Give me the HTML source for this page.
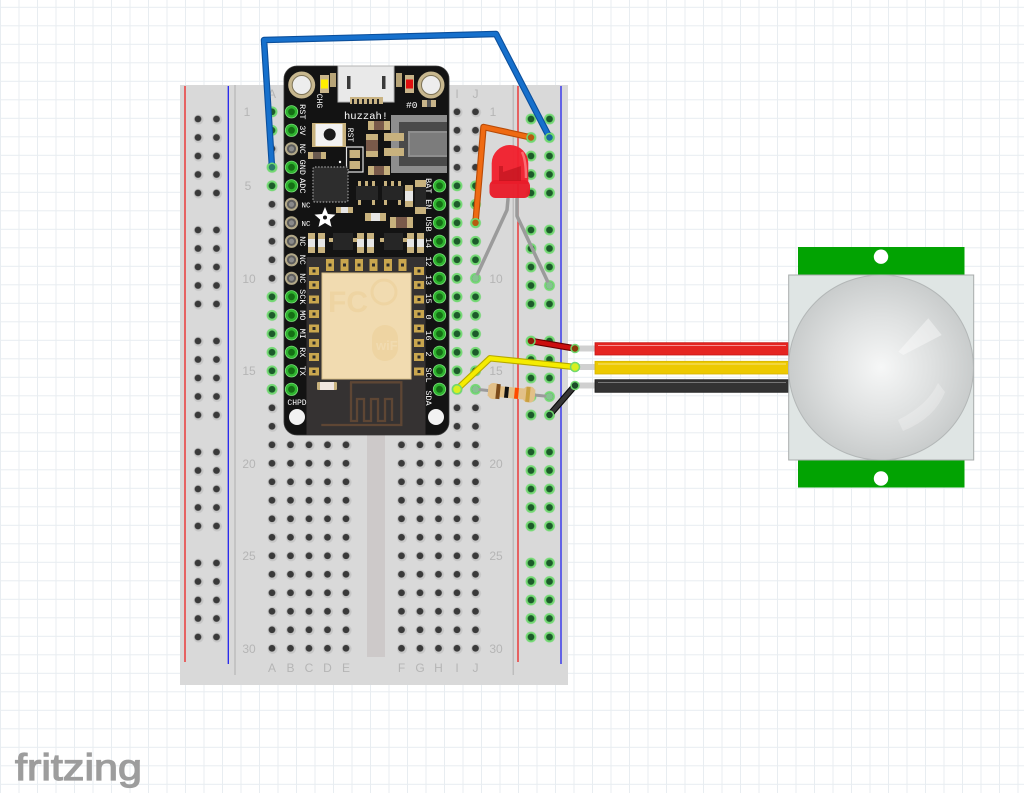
<!DOCTYPE html>
<html><head><meta charset="utf-8"><style>
html,body{margin:0;padding:0;background:#fff;width:1024px;height:793px;overflow:hidden}
svg{display:block}
.ml{font-family:"Liberation Mono",monospace;fill:#fff}
.bl{font-family:"Liberation Sans",sans-serif;fill:#b5b5b5;font-size:12px}
</style></head><body>
<svg width="1024" height="793" viewBox="0 0 1024 793" xmlns="http://www.w3.org/2000/svg">
<defs>
<pattern id="grid" patternUnits="userSpaceOnUse" x="0" y="6.8" width="18.5" height="18.5">
<path d="M0 0.5H18.5M0.5 0V18.5" stroke="#e8edf1" stroke-width="1" fill="none"/>
</pattern>
<pattern id="hg" patternUnits="userSpaceOnUse" x="262.75" y="102.55" width="18.5" height="18.5">
<circle cx="9.8" cy="9.8" r="5" fill="#c6c6c6"/><circle cx="9.25" cy="9.25" r="3.4" fill="#3a3a3a"/>
</pattern>
<pattern id="hgg" patternUnits="userSpaceOnUse" x="262.75" y="102.55" width="18.5" height="18.5">
<circle cx="9.25" cy="9.25" r="5.4" fill="#74d974"/><circle cx="9.25" cy="9.25" r="3.4" fill="#1c5a2a"/>
</pattern>
<pattern id="rg" patternUnits="userSpaceOnUse" x="262.75" y="109.75" width="18.5" height="18.5">
<circle cx="9.8" cy="9.8" r="5" fill="#c6c6c6"/><circle cx="9.25" cy="9.25" r="3.4" fill="#3a3a3a"/>
</pattern>
<pattern id="rgg" patternUnits="userSpaceOnUse" x="262.75" y="109.75" width="18.5" height="18.5">
<circle cx="9.25" cy="9.25" r="5.4" fill="#74d974"/><circle cx="9.25" cy="9.25" r="3.4" fill="#1c5a2a"/>
</pattern>
<radialGradient id="dome" cx="0.5" cy="0.5" r="0.5">
<stop offset="0" stop-color="#f6f7f7"/><stop offset="0.55" stop-color="#dfe1e1"/><stop offset="1" stop-color="#c9cccc"/>
</radialGradient>
<g id="gp"><circle r="6.6" fill="#7be07b"/><circle r="5.8" fill="#2fb52f"/><circle r="3.4" fill="#156f15"/></g>
<g id="np"><circle r="6.6" fill="#b3a988"/><circle r="4.6" fill="#5e5e5e"/><circle r="2.6" fill="#8a8a8a"/></g>
<g id="pad"><rect x="-4" y="-6" width="8" height="12" fill="#c9a64e"/><rect x="-1.5" y="-1.5" width="3" height="3" fill="#2a2a2a"/></g>
<g id="spad"><rect x="-5" y="-4" width="10" height="8" fill="#c9a64e"/><rect x="-1.5" y="-1.5" width="3" height="3" fill="#2a2a2a"/></g>
</defs>

<rect width="1024" height="793" fill="#fff"/>
<rect width="1024" height="793" fill="url(#grid)"/>

<!-- breadboard -->
<rect x="180" y="85" width="388" height="600" fill="#d9d9d9"/>
<line x1="185" y1="86" x2="185" y2="662" stroke="#ee2222" stroke-width="1.3"/>
<line x1="228.3" y1="86" x2="228.3" y2="664" stroke="#2222ee" stroke-width="1.3"/>
<line x1="518" y1="86" x2="518" y2="662" stroke="#ee2222" stroke-width="1.3"/>
<line x1="561" y1="86" x2="561" y2="664" stroke="#2222ee" stroke-width="1.3"/>
<line x1="235" y1="85" x2="235" y2="675" stroke="#bdbdbd" stroke-width="1.5"/>
<line x1="513.3" y1="85" x2="513.3" y2="675" stroke="#bdbdbd" stroke-width="1.5"/>
<rect x="367" y="95" width="18" height="562" fill="#cdc9c9"/>

<!-- holes -->
<rect x="262.75" y="102.55" width="92.5" height="555" fill="url(#hg)"/>
<rect x="392.25" y="102.55" width="92.5" height="555" fill="url(#hg)"/>
<rect x="262.75" y="102.55" width="18.5" height="37" fill="url(#hgg)"/>
<rect x="262.75" y="158.05" width="18.5" height="37" fill="url(#hgg)"/>
<rect x="262.75" y="287.55" width="18.5" height="111" fill="url(#hgg)"/>
<rect x="447.75" y="176.55" width="37" height="222" fill="url(#hgg)"/>
<!-- rails -->
<rect x="188.75" y="109.75" width="37" height="92.5" fill="url(#rg)"/>
<rect x="188.75" y="220.75" width="37" height="92.5" fill="url(#rg)"/>
<rect x="188.75" y="331.75" width="37" height="92.5" fill="url(#rg)"/>
<rect x="188.75" y="442.75" width="37" height="92.5" fill="url(#rg)"/>
<rect x="188.75" y="553.75" width="37" height="92.5" fill="url(#rg)"/>
<rect x="521.75" y="109.75" width="37" height="92.5" fill="url(#rgg)"/>
<rect x="521.75" y="220.75" width="37" height="92.5" fill="url(#rgg)"/>
<rect x="521.75" y="331.75" width="37" height="92.5" fill="url(#rgg)"/>
<rect x="521.75" y="442.75" width="37" height="92.5" fill="url(#rgg)"/>
<rect x="521.75" y="553.75" width="37" height="92.5" fill="url(#rgg)"/>

<!-- row labels -->
<g class="bl" text-anchor="middle">
<text x="247" y="116">1</text><text x="248" y="190">5</text><text x="249" y="283">10</text><text x="249" y="375">15</text><text x="249" y="468">20</text><text x="249" y="560">25</text><text x="249" y="653">30</text>
<text x="493" y="116">1</text><text x="496" y="283">10</text><text x="496" y="375">15</text><text x="496" y="468">20</text><text x="496" y="560">25</text><text x="496" y="653">30</text>
<text x="272" y="672">A</text><text x="290.5" y="672">B</text><text x="309" y="672">C</text><text x="327.5" y="672">D</text><text x="346" y="672">E</text>
<text x="401.5" y="672">F</text><text x="420" y="672">G</text><text x="438.5" y="672">H</text><text x="457" y="672">I</text><text x="475.5" y="672">J</text>
<text x="272" y="98">A</text><text x="457" y="98">I</text><text x="475.5" y="98">J</text>
</g>

<!-- FEATHER -->
<rect x="284" y="66" width="165" height="369" rx="13" fill="#131313" stroke="#3a3a3a" stroke-width="0.8"/>
<circle cx="301.7" cy="85" r="13.5" fill="#c7b78e"/>
<circle cx="301.7" cy="85" r="9.5" fill="#ededed" stroke="#7d7357" stroke-width="1"/>
<circle cx="431" cy="85" r="13.5" fill="#c7b78e"/>
<circle cx="431" cy="85" r="9.5" fill="#ededed" stroke="#7d7357" stroke-width="1"/>
<circle cx="297" cy="417" r="8" fill="#f2f2f2"/>
<circle cx="436" cy="417" r="8" fill="#f2f2f2"/>
<!-- LEDs on board -->
<rect x="320" y="75" width="9" height="18" fill="#c9b58a"/><rect x="321" y="79.5" width="7" height="9" fill="#ffee00"/>
<rect x="405" y="75" width="9" height="18" fill="#c9b58a"/><rect x="406" y="79.5" width="7" height="9" fill="#e01010"/>
<rect x="330" y="73" width="6" height="14" fill="#b7a477"/>
<rect x="396" y="73" width="6" height="14" fill="#b7a477"/>
<!-- USB -->
<rect x="338" y="66" width="56" height="36" fill="#e9e9e9" stroke="#b5b5b5" stroke-width="1"/>
<rect x="347" y="76" width="3.5" height="13" fill="#3a3a3a"/>
<rect x="382" y="76" width="3.5" height="13" fill="#3a3a3a"/>
<rect x="350" y="97" width="33" height="7" fill="#c9b383"/>
<rect x="352" y="99" width="2" height="5" fill="#222"/><rect x="357" y="99" width="2" height="5" fill="#222"/><rect x="362" y="99" width="2" height="5" fill="#222"/><rect x="367" y="99" width="2" height="5" fill="#222"/><rect x="372" y="99" width="2" height="5" fill="#222"/><rect x="377" y="99" width="2" height="5" fill="#222"/>
<text class="ml" font-size="8" transform="translate(320,101) rotate(90)" text-anchor="middle" dy="3">CHG</text>
<text class="ml" font-size="9.5" x="406" y="108">#0</text>
<rect x="422" y="100" width="14" height="7" fill="#c9b58a"/><rect x="427" y="100" width="4" height="7" fill="#555"/>
<text class="ml" font-size="10.5" x="344" y="119">huzzah!</text>
<!-- reset -->
<rect x="312" y="123" width="34" height="24" fill="#c8b27e"/>
<rect x="315.5" y="124" width="27" height="22" fill="#f2f2f2"/>
<circle cx="329.7" cy="134.5" r="6" fill="#1a1a1a"/>
<text class="ml" font-size="8" transform="translate(351,135) rotate(90)" text-anchor="middle" dy="3">RST</text>
<rect x="346.5" y="147" width="16.5" height="25" fill="none" stroke="#e5e5e5" stroke-width="1.2"/>
<rect x="349.5" y="150" width="10.5" height="8" fill="#c8b27e"/><rect x="349.5" y="161" width="10.5" height="8" fill="#c8b27e"/>
<circle cx="340" cy="162" r="1.2" fill="#fff"/>
<!-- small resistors -->
<rect x="368" y="121" width="22" height="9" fill="#c8b27e"/><rect x="374" y="121" width="10" height="9" fill="#7a5a4a"/>
<rect x="366" y="134" width="12" height="23" fill="#c8b27e"/><rect x="366" y="140" width="12" height="11" fill="#7a5a4a"/>
<rect x="368" y="166" width="22" height="9" fill="#c8b27e"/><rect x="374" y="166" width="10" height="9" fill="#7a5a4a"/>
<rect x="308" y="152" width="18" height="7" fill="#c8b27e"/><rect x="313" y="152" width="8" height="7" fill="#6a5a50"/>
<!-- JST -->
<rect x="391" y="115" width="56" height="58" fill="#8e8e8e"/>
<path d="M399 122H447V131H408V157H447V166H399Z" fill="#4a4a4a"/>
<rect x="410" y="133" width="37" height="22" fill="#7c7c7c"/>
<rect x="384" y="133" width="20" height="8" fill="#c8b27e"/><rect x="384" y="148" width="20" height="8" fill="#c8b27e"/>
<!-- chip -->
<rect x="313" y="167" width="35" height="35" rx="2" fill="#2d2d2d" stroke="#8a8a8a" stroke-width="1.4" stroke-dasharray="1.5 1.6"/>
<!-- SOT / parts -->
<rect x="356" y="186" width="22" height="14" fill="#262626"/>
<rect x="358" y="181" width="3" height="5" fill="#c8b27e"/><rect x="365" y="181" width="3" height="5" fill="#c8b27e"/><rect x="372" y="181" width="3" height="5" fill="#c8b27e"/>
<rect x="358" y="200" width="3" height="5" fill="#c8b27e"/><rect x="372" y="200" width="3" height="5" fill="#c8b27e"/>
<rect x="382" y="186" width="21" height="14" fill="#262626"/>
<rect x="384" y="181" width="3" height="5" fill="#c8b27e"/><rect x="391" y="181" width="3" height="5" fill="#c8b27e"/><rect x="398" y="181" width="3" height="5" fill="#c8b27e"/>
<rect x="384" y="200" width="3" height="5" fill="#c8b27e"/><rect x="398" y="200" width="3" height="5" fill="#c8b27e"/>
<rect x="405" y="185" width="8" height="22" fill="#c8b27e"/><rect x="405" y="191" width="8" height="10" fill="#e6e6e6"/>
<rect x="415" y="180" width="11" height="34" fill="#c8b27e"/><rect x="415" y="187" width="11" height="20" fill="#262626"/>
<rect x="336" y="207" width="17" height="6" fill="#c8b27e"/><rect x="341" y="207" width="7" height="6" fill="#e6e6e6"/>
<rect x="365" y="213" width="21" height="8" fill="#c8b27e"/><rect x="371" y="213" width="9" height="8" fill="#e6e6e6"/>
<rect x="390" y="217" width="23" height="11" fill="#c8b27e"/><rect x="396" y="217" width="11" height="11" fill="#7a5a4a"/>
<polygon points="325,207 327.9,214 335.5,214.6 329.8,219.6 331.5,226.9 325,223 318.5,226.9 320.2,219.6 314.5,214.6 322.1,214" fill="#fff"/>
<circle cx="325" cy="217.5" r="2" fill="#131313"/>
<rect x="308" y="233" width="7" height="20" fill="#c8b27e"/><rect x="308" y="239" width="7" height="8" fill="#e6e6e6"/>
<rect x="318" y="233" width="7" height="20" fill="#c8b27e"/><rect x="318" y="239" width="7" height="8" fill="#e6e6e6"/>
<rect x="333" y="233" width="20" height="17" fill="#262626"/><rect x="329" y="238" width="4" height="4" fill="#c8b27e"/><rect x="353" y="238" width="4" height="4" fill="#c8b27e"/>
<rect x="357" y="233" width="7" height="20" fill="#c8b27e"/><rect x="357" y="239" width="7" height="8" fill="#e6e6e6"/>
<rect x="367" y="233" width="7" height="20" fill="#c8b27e"/><rect x="367" y="239" width="7" height="8" fill="#e6e6e6"/>
<rect x="384" y="233" width="19" height="17" fill="#262626"/><rect x="380" y="238" width="4" height="4" fill="#c8b27e"/><rect x="403" y="238" width="4" height="4" fill="#c8b27e"/>
<rect x="407" y="233" width="7" height="20" fill="#c8b27e"/><rect x="407" y="239" width="7" height="8" fill="#e6e6e6"/>
<rect x="417" y="233" width="7" height="20" fill="#c8b27e"/><rect x="417" y="239" width="7" height="8" fill="#e6e6e6"/>
<!-- ESP module -->
<rect x="306.5" y="257" width="119" height="178" fill="#353232"/>
<use href="#pad" x="330" y="265"/><use href="#pad" x="344.5" y="265"/><use href="#pad" x="359" y="265"/><use href="#pad" x="373.5" y="265"/><use href="#pad" x="388" y="265"/><use href="#pad" x="402.5" y="265"/>
<use href="#spad" x="314" y="271"/><use href="#spad" x="314" y="285"/><use href="#spad" x="314" y="299.5"/><use href="#spad" x="314" y="314"/><use href="#spad" x="314" y="328.5"/><use href="#spad" x="314" y="343"/><use href="#spad" x="314" y="357"/><use href="#spad" x="314" y="371.5"/>
<use href="#spad" x="419" y="271"/><use href="#spad" x="419" y="285"/><use href="#spad" x="419" y="299.5"/><use href="#spad" x="419" y="314"/><use href="#spad" x="419" y="328.5"/><use href="#spad" x="419" y="343"/><use href="#spad" x="419" y="357"/><use href="#spad" x="419" y="371.5"/>
<rect x="322" y="273" width="89" height="106" fill="#f1dbb0" stroke="#d8bf88" stroke-width="1"/>
<text x="328" y="312" font-family="Liberation Sans,sans-serif" font-size="30" font-weight="bold" fill="#eed4a2">FC</text>
<circle cx="384" cy="292" r="12" fill="none" stroke="#eed4a2" stroke-width="3"/>
<rect x="372" y="325" width="26" height="36" rx="13" fill="#eed4a2"/>
<text x="376" y="350" font-family="Liberation Sans,sans-serif" font-size="13" font-weight="bold" fill="#f1dbb0">wiFi</text>
<rect x="317" y="382" width="20" height="8" rx="1" fill="#c8b27e"/><rect x="320" y="382" width="14" height="8" fill="#f0e6e0"/>
<path d="M350 382.3H401.3V425H321.3M351 382.3V421H357V399H364V421H371V399H378V421H385V399H392V421" fill="none" stroke="#5e4634" stroke-width="2.3"/>
<!-- header pins left -->
<use href="#gp" x="291.5" y="111.8"/><use href="#gp" x="291.5" y="130.3"/><use href="#np" x="291.5" y="148.8"/><use href="#gp" x="291.5" y="167.3"/><use href="#gp" x="291.5" y="185.8"/>
<use href="#np" x="291.5" y="204.3"/><use href="#np" x="291.5" y="222.8"/><use href="#np" x="291.5" y="241.3"/><use href="#np" x="291.5" y="259.8"/><use href="#np" x="291.5" y="278.3"/>
<use href="#gp" x="291.5" y="296.8"/><use href="#gp" x="291.5" y="315.3"/><use href="#gp" x="291.5" y="333.8"/><use href="#gp" x="291.5" y="352.3"/><use href="#gp" x="291.5" y="370.8"/><use href="#gp" x="291.5" y="389.3"/>
<!-- header pins right -->
<use href="#gp" x="439.5" y="185.8"/><use href="#gp" x="439.5" y="204.3"/><use href="#gp" x="439.5" y="222.8"/><use href="#gp" x="439.5" y="241.3"/><use href="#gp" x="439.5" y="259.8"/><use href="#gp" x="439.5" y="278.3"/>
<use href="#gp" x="439.5" y="296.8"/><use href="#gp" x="439.5" y="315.3"/><use href="#gp" x="439.5" y="333.8"/><use href="#gp" x="439.5" y="352.3"/><use href="#gp" x="439.5" y="370.8"/><use href="#gp" x="439.5" y="389.3"/>
<!-- pin labels -->
<g class="ml" font-size="8.5" text-anchor="middle">
<text transform="translate(303,111.8) rotate(90)" dy="3">RST</text>
<text transform="translate(303,130.3) rotate(90)" dy="3">3V</text>
<text transform="translate(303,148.8) rotate(90)" dy="3">NC</text>
<text transform="translate(303,167.3) rotate(90)" dy="3">GND</text>
<text transform="translate(303,185.8) rotate(90)" dy="3">ADC</text>
<text x="306" y="207.5" font-size="7.5">NC</text>
<text x="306" y="226" font-size="7.5">NC</text>
<text transform="translate(303,241.3) rotate(90)" dy="3">NC</text>
<text transform="translate(303,259.8) rotate(90)" dy="3">NC</text>
<text transform="translate(303,278.3) rotate(90)" dy="3">NC</text>
<text transform="translate(303,296.8) rotate(90)" dy="3">SCK</text>
<text transform="translate(303,315.3) rotate(90)" dy="3">MO</text>
<text transform="translate(303,333.8) rotate(90)" dy="3">MI</text>
<text transform="translate(303,352.3) rotate(90)" dy="3">RX</text>
<text transform="translate(303,370.8) rotate(90)" dy="3">TX</text>
<text x="297" y="405" font-size="8">CHPD</text>
<text transform="translate(429,185.8) rotate(90)" dy="3">BAT</text>
<text transform="translate(429,204.3) rotate(90)" dy="3">EN</text>
<text transform="translate(429,224) rotate(90)" dy="3">USB</text>
<text transform="translate(429,243) rotate(90)" dy="3">14</text>
<text transform="translate(429,261.5) rotate(90)" dy="3">12</text>
<text transform="translate(429,280) rotate(90)" dy="3">13</text>
<text transform="translate(429,298.5) rotate(90)" dy="3">15</text>
<text transform="translate(429,317) rotate(90)" dy="3">0</text>
<text transform="translate(429,335.5) rotate(90)" dy="3">16</text>
<text transform="translate(429,354) rotate(90)" dy="3">2</text>
<text transform="translate(429,375) rotate(90)" dy="3">SCL</text>
<text transform="translate(429,398) rotate(90)" dy="3">SDA</text>
</g>

<!-- LED legs -->
<polyline points="508,199 507,210 475.5,278.3" fill="none" stroke="#9b9b9b" stroke-width="3.5" stroke-linecap="round" stroke-linejoin="round"/>
<polyline points="517,199 517,216 549.5,285.5" fill="none" stroke="#9b9b9b" stroke-width="3.5" stroke-linecap="round" stroke-linejoin="round"/>
<circle cx="475.5" cy="278.3" r="3.5" fill="#86c290"/>
<circle cx="549.5" cy="285.5" r="3.5" fill="#86c290"/>
<!-- orange wire -->
<polyline points="475.5,222.8 483.5,127 531,137.5" fill="none" stroke="#b84a06" stroke-width="6.5" stroke-linecap="round" stroke-linejoin="round"/>
<polyline points="475.5,222.8 483.5,127 531,137.5" fill="none" stroke="#ef6a12" stroke-width="4.3" stroke-linecap="round" stroke-linejoin="round"/>
<circle cx="475.5" cy="222.8" r="4" fill="#b85a10" stroke="#70d870" stroke-width="1.5"/>
<circle cx="531" cy="137.5" r="4" fill="#b85a10" stroke="#70d870" stroke-width="1.5"/>
<!-- LED body -->
<path d="M491.7 184V163.3A18.3 18.3 0 0 1 528.3 163.3V184Z" fill="#f0202e" opacity="0.96"/>
<rect x="489.5" y="180" width="40.5" height="18" rx="6" fill="#e81c2a" opacity="0.96"/>
<path d="M522 152Q526 160 526 178" fill="none" stroke="#ff8a90" stroke-width="2.5" opacity="0.7"/>
<path d="M499 166H503V172L521 166V181H499Z" fill="#b8101a" opacity="0.6"/>
<!-- blue wire -->
<polyline points="272,167.3 264,40 496,34 549.5,137.5" fill="none" stroke="#0b4f9c" stroke-width="6.5" stroke-linecap="round" stroke-linejoin="round"/>
<polyline points="272,167.3 264,40 496,34 549.5,137.5" fill="none" stroke="#1670cc" stroke-width="4.3" stroke-linecap="round" stroke-linejoin="round"/>
<circle cx="272" cy="167.3" r="4" fill="#2a7a6a" stroke="#70d870" stroke-width="1.5"/>
<circle cx="549.5" cy="137.5" r="4" fill="#1a6a9a" stroke="#70d870" stroke-width="1.5"/>
<!-- resistor -->
<line x1="475.5" y1="389.3" x2="549.5" y2="396.5" stroke="#9b9b9b" stroke-width="3" stroke-linecap="round"/>
<circle cx="475.5" cy="389.3" r="3.5" fill="#86c290"/>
<circle cx="549.5" cy="396.5" r="3.5" fill="#86c290"/>
<g transform="translate(511.5,392.8) rotate(5.6)">
<rect x="-23.5" y="-5.5" width="47" height="11" fill="#e2c088"/>
<rect x="-23.5" y="-8" width="12" height="16" rx="5" fill="#e2c088"/>
<rect x="11.5" y="-8" width="12" height="16" rx="5" fill="#e2c088"/>
<rect x="-15.5" y="-7.5" width="4" height="15" fill="#7a4a1a"/>
<rect x="-7" y="-5.5" width="4" height="11" fill="#111"/>
<rect x="3" y="-5.5" width="4" height="11" fill="#ff4a00"/>
<rect x="14.5" y="-7.5" width="4" height="15" fill="#c9a040"/>
</g>
<!-- PIR leads -->
<rect x="575" y="345.5" width="21" height="6" fill="#d0d0d0"/>
<rect x="575" y="364" width="21" height="6" fill="#d0d0d0"/>
<rect x="575" y="382.5" width="21" height="6" fill="#d0d0d0"/>
<!-- red wire -->
<line x1="531" y1="341" x2="575" y2="348.5" stroke="#6a0000" stroke-width="6.5" stroke-linecap="round"/>
<line x1="531" y1="341" x2="575" y2="348.5" stroke="#cc0f0f" stroke-width="4.3" stroke-linecap="round"/>
<circle cx="531" cy="341" r="4" fill="#8a1a0a" stroke="#70d870" stroke-width="1.5"/>
<circle cx="575" cy="348.5" r="4" fill="#8a3a0a" stroke="#70d870" stroke-width="1.5"/>
<!-- yellow wire -->
<polyline points="457,389.3 490,358.3 575,367" fill="none" stroke="#b5a800" stroke-width="6.5" stroke-linecap="round" stroke-linejoin="round"/>
<polyline points="457,389.3 490,358.3 575,367" fill="none" stroke="#f5ec00" stroke-width="4.3" stroke-linecap="round" stroke-linejoin="round"/>
<circle cx="457" cy="389.3" r="4.5" fill="#d8f020" stroke="#70d870" stroke-width="1.5"/>
<circle cx="575" cy="367" r="4.5" fill="#d8f020" stroke="#70d870" stroke-width="1.5"/>
<!-- black wire -->
<line x1="549.5" y1="415" x2="575" y2="385.5" stroke="#0a0a0a" stroke-width="6.5" stroke-linecap="round"/>
<line x1="549.5" y1="415" x2="575" y2="385.5" stroke="#353535" stroke-width="4.3" stroke-linecap="round"/>
<circle cx="549.5" cy="415" r="4" fill="#1c4a2a" stroke="#70d870" stroke-width="1.5"/>
<circle cx="575" cy="385.5" r="4" fill="#1c4a2a" stroke="#70d870" stroke-width="1.5"/>

<!-- PIR wires -->
<rect x="595" y="342.7" width="195" height="12.3" fill="#e52521" stroke="#c41414" stroke-width="0.8"/>
<line x1="598" y1="345.5" x2="786" y2="345.5" stroke="#f59090" stroke-width="1"/>
<rect x="595" y="361.3" width="195" height="12.7" fill="#edc900" stroke="#d4b300" stroke-width="0.8"/>
<line x1="598" y1="364" x2="786" y2="364" stroke="#f7e27a" stroke-width="1"/>
<rect x="595" y="379.7" width="195" height="12.6" fill="#333" stroke="#1a1a1a" stroke-width="0.8"/>
<line x1="598" y1="382.5" x2="786" y2="382.5" stroke="#777" stroke-width="1"/>
<!-- PIR -->
<rect x="798" y="247" width="166.5" height="29" fill="#02a302"/>
<circle cx="881" cy="256.7" r="7.2" fill="#fff"/>
<rect x="798" y="459" width="166.5" height="28.5" fill="#02a302"/>
<circle cx="881" cy="478.5" r="7.2" fill="#fff"/>
<rect x="788.7" y="275" width="185" height="185" fill="#dfe5e4" stroke="#a8acac" stroke-width="1"/>
<circle cx="881" cy="367.5" r="92.5" fill="url(#dome)" stroke="#b3b7b7" stroke-width="1"/>
<polygon points="898.3,351.7 928.3,318.3 941.7,335 903.3,355" fill="#fff" opacity="0.4"/>
<path d="M898 420Q928 405 938 383L945 392Q935 418 903 431Z" fill="#fff" opacity="0.25"/>

<!-- fritzing logo -->
<text x="15" y="780" font-family="Liberation Sans,sans-serif" font-size="37" fill="#9d9d9d" stroke="#9d9d9d" stroke-width="1.2" textLength="127" lengthAdjust="spacingAndGlyphs">fritzing</text>
</svg>
</body></html>
